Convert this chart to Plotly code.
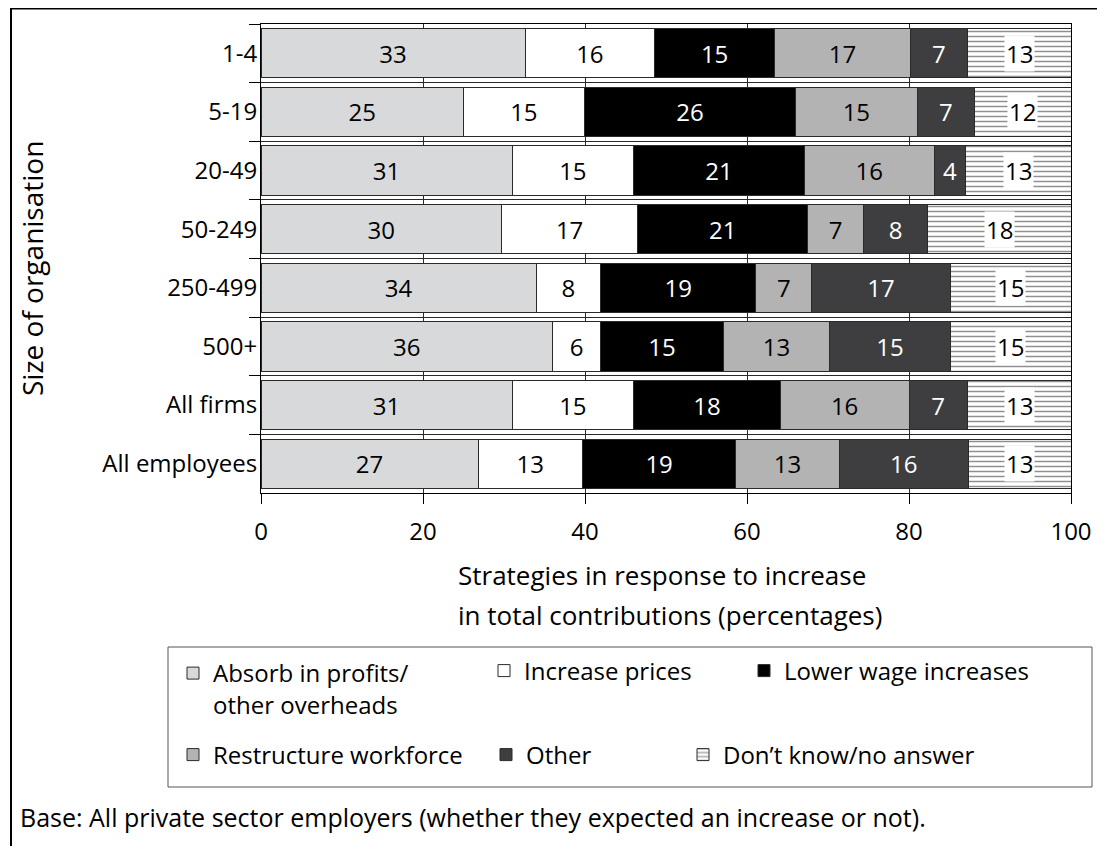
import plotly.graph_objects as go

# ---------------- data ----------------
categories = ["1-4", "5-19", "20-49", "50-249", "250-499", "500+", "All firms", "All employees"]
absorb = [32.6, 25.0, 31.0, 29.7, 34.0, 36.0, 31.0, 26.8]
increase_prices = [16.0, 14.9, 15.0, 16.8, 7.9, 5.9, 15.0, 12.9]
lower_wage = [14.8, 26.1, 21.1, 21.0, 19.2, 15.2, 18.1, 18.9]
restructure = [16.8, 15.0, 16.0, 6.9, 6.9, 13.1, 15.9, 12.8]
other = [7.0, 7.1, 3.9, 7.9, 17.1, 14.9, 7.2, 15.9]
dont_know = [12.8, 11.9, 13.0, 17.7, 14.9, 14.9, 12.8, 12.7]
x_ticks = [0, 20, 40, 60, 80, 100]

series_names = ["Absorb in profits/<br>other overheads", "Increase prices", "Lower wage increases",
                "Restructure workforce", "Other", "Don\u2019t know/no answer"]

# ---------------- geometry helpers ----------------
OFF = 8                      # page body margin
W, H = 1105 - 2 * OFF, 854 - 2 * OFF
PL, PR, PT, PB = 261, 1071, 24, 493   # plot area in screen pixels
FONT = "Open Sans"


def px(x):
    return (x - PL) / (PR - PL)


def py(y):
    return (PB - y) / (PB - PT)


fig = go.Figure()

solid_series = [
    (absorb, series_names[0], "#d8d9db", "black", "legend"),
    (increase_prices, series_names[1], "#ffffff", "black", "legend2"),
    (lower_wage, series_names[2], "#000000", "white", "legend3"),
    (restructure, series_names[3], "#b3b3b4", "black", "legend4"),
    (other, series_names[4], "#3e3e40", "white", "legend5"),
]
for vals, name, color, tcolor, leg in solid_series:
    fig.add_trace(go.Bar(
        y=categories, x=vals, name=name, orientation="h",
        marker=dict(color=color, line=dict(color="#2a2a2a", width=1)),
        texttemplate="%{x:.0f}", textposition="inside", insidetextanchor="middle",
        textangle=0, constraintext="none",
        textfont=dict(family=FONT, size=24, color=tcolor),
        legend=leg, hoverinfo="x+name",
    ))

fig.add_trace(go.Bar(
    y=categories, x=dont_know, name=series_names[5], orientation="h",
    marker=dict(color="white", line=dict(color="#2a2a2a", width=1),
                pattern=dict(shape="-", fgcolor="#222222", bgcolor="white", size=5, solidity=0.3)),
    legend="legend6", hoverinfo="x+name",
))

annotations = []
# labels for the patterned segment, with white background
for i, cat in enumerate(categories):
    base = absorb[i] + increase_prices[i] + lower_wage[i] + restructure[i] + other[i]
    annotations.append(dict(
        x=base + dont_know[i] / 2, y=cat, xref="x", yref="y",
        text=f"{dont_know[i]:.0f}", showarrow=False, bgcolor="white", borderpad=1,
        font=dict(family=FONT, size=24, color="black"),
    ))

annotations += [
    dict(x=px(32), y=py(269), xref="paper", yref="paper", text="Size of organisation",
         textangle=-90, showarrow=False, xanchor="center", yanchor="middle",
         font=dict(family=FONT, size=28, color="black")),
    dict(x=px(456), y=py(575), xref="paper", yref="paper",
         text="Strategies in response to increase",
         align="left", showarrow=False, xanchor="left", yanchor="middle",
         font=dict(family=FONT, size=26, color="black")),
    dict(x=px(456), y=py(615), xref="paper", yref="paper",
         text="in total contributions (percentages)",
         align="left", showarrow=False, xanchor="left", yanchor="middle",
         font=dict(family=FONT, size=26, color="black")),
    dict(x=px(18), y=py(817), xref="paper", yref="paper",
         text="Base: All private sector employers (whether they expected an increase or not).",
         showarrow=False, xanchor="left", yanchor="middle",
         font=dict(family=FONT, size=25, color="black")),
]

shapes = [
    # outer frame (top and left)
    dict(type="line", xref="paper", yref="paper", x0=px(10), x1=px(1110), y0=py(8.5), y1=py(8.5),
         line=dict(color="black", width=2)),
    dict(type="line", xref="paper", yref="paper", x0=px(11), x1=px(11), y0=py(8), y1=py(860),
         line=dict(color="black", width=2)),
    # legend box
    dict(type="rect", xref="paper", yref="paper", x0=px(168), x1=px(1092), y0=py(787), y1=py(647),
         line=dict(color="#555555", width=1), fillcolor="rgba(0,0,0,0)"),
]

leg_font = dict(family=FONT, size=24, color="black")


def leg(xp, yp):
    return dict(x=px(xp), y=py(yp), xanchor="left", yanchor="middle", font=leg_font,
                bgcolor="rgba(0,0,0,0)", borderwidth=0, valign="top", itemwidth=30)


fig.update_layout(
    width=W, height=H, autosize=False,
    margin=dict(l=PL - OFF, r=W - (PR - OFF), t=PT - OFF, b=H - (PB - OFF), pad=0,
                autoexpand=False),
    paper_bgcolor="white", plot_bgcolor="white",
    barmode="stack", bargap=0.16,
    font=dict(family=FONT, size=24, color="black"),
    showlegend=True,
    legend=leg(173, 689),
    legend2=leg(484, 671),
    legend3=leg(744, 671),
    legend4=leg(173, 755),
    legend5=leg(486, 755),
    legend6=leg(683, 755),
    xaxis=dict(range=[0, 100], tickvals=x_ticks, ticks="outside", ticklen=10, tickcolor="black",
               showgrid=True, gridcolor="#2a2a2a", gridwidth=1, zeroline=False,
               showline=True, linecolor="black", linewidth=1, mirror=True,
               ticklabelstandoff=7, automargin=False,
               tickfont=dict(family=FONT, size=24, color="black")),
    yaxis=dict(type="category", categoryorder="array", categoryarray=categories,
               autorange="reversed", tickson="boundaries", ticks="outside", ticklen=11,
               tickcolor="black", showgrid=True, gridcolor="#2a2a2a", gridwidth=1,
               showline=True, linecolor="black", linewidth=1, mirror=True,
               ticklabelstandoff=-2, automargin=False,
               tickfont=dict(family=FONT, size=24, color="black")),
    annotations=annotations,
    shapes=shapes,
)

fig.write_html("out.html")
